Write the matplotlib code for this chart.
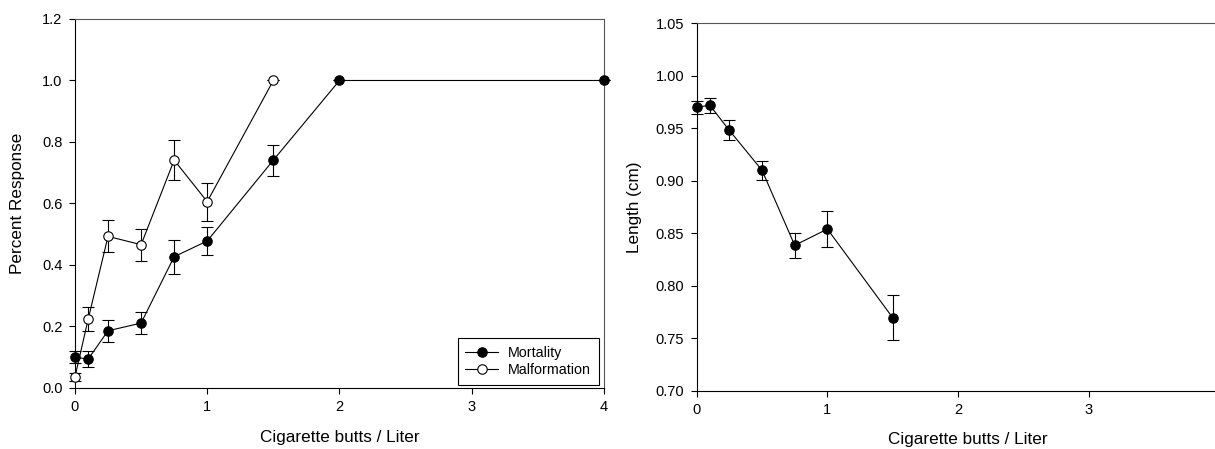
import matplotlib.pyplot as plt

plt.rcParams['font.family'] = ['Liberation Sans', 'DejaVu Sans']

# dose (cigarette butts / liter)
mort_x = [0, 0.1, 0.25, 0.5, 0.75, 1, 1.5, 2, 4]
mort_y = [0.10, 0.094, 0.186, 0.211, 0.427, 0.478, 0.741, 1.0, 1.0]
mort_err = [0.02, 0.026, 0.035, 0.037, 0.055, 0.045, 0.05, 0, 0]

malf_x = [0, 0.1, 0.25, 0.5, 0.75, 1, 1.5]
malf_y = [0.036, 0.224, 0.493, 0.466, 0.741, 0.606, 1.0]
malf_err = [0.012, 0.04, 0.052, 0.052, 0.065, 0.062, 0]

len_x = [0, 0.1, 0.25, 0.5, 0.75, 1, 1.5]
len_y = [0.970, 0.972, 0.948, 0.910, 0.8385, 0.854, 0.7695]
len_err = [0.006, 0.007, 0.0095, 0.009, 0.012, 0.017, 0.0215]

left_ticks_y = [0.0, 0.2, 0.4, 0.6, 0.8, 1.0, 1.2]
right_ticks_y = [0.70, 0.75, 0.80, 0.85, 0.90, 0.95, 1.00, 1.05]

fig = plt.figure(figsize=(12.15, 4.49), dpi=100)
ax1 = fig.add_axes([0.0617, 0.1359, 0.4354, 0.8218])
ax2 = fig.add_axes([0.5734, 0.1298, 0.4303, 0.8183])

line_kw = dict(color='black', lw=0.8, ms=6.8, capsize=4.2, elinewidth=0.8,
               capthick=0.8, mec='black', mew=0.8)

ax1.errorbar(mort_x, mort_y, yerr=mort_err, fmt='-o', mfc='black',
             label='Mortality', zorder=3, **line_kw)
ax1.errorbar(malf_x, malf_y, yerr=malf_err, fmt='-o', mfc='white',
             label='Malformation', zorder=4, **line_kw)
ax1.set_xlim(0, 4)
ax1.set_ylim(0, 1.2)
ax1.set_xticks([0, 1, 2, 3, 4])
ax1.set_yticks(left_ticks_y)
ax1.set_yticklabels([f'{v:.1f}' for v in left_ticks_y])
ax1.set_xlabel('Cigarette butts / Liter', fontsize=12.3)
ax1.xaxis.set_label_coords(0.5, -0.115)
ax1.set_ylabel('Percent Response', fontsize=12.3)
ax1.yaxis.set_label_coords(-0.0945, 0.5)
handles, labels = ax1.get_legend_handles_labels()
handles = [h[0] for h in handles]
leg = ax1.legend(handles, labels, loc='lower right', bbox_to_anchor=(0.991, 0.008),
                 fontsize=10.3, fancybox=False, edgecolor='black', framealpha=1,
                 handlelength=2.3, borderpad=0.55, labelspacing=0.25,
                 handletextpad=0.7, borderaxespad=0)
leg.get_frame().set_linewidth(0.8)

ax2.errorbar(len_x, len_y, yerr=len_err, fmt='-o', mfc='black', zorder=3, **line_kw)
ax2.set_xlim(0, 4)
ax2.set_ylim(0.70, 1.05)
ax2.set_xticks([0, 1, 2, 3])
ax2.set_yticks(right_ticks_y)
ax2.set_yticklabels([f'{v:.2f}' for v in right_ticks_y])
ax2.set_xlabel('Cigarette butts / Liter', fontsize=12.3)
ax2.xaxis.set_label_coords(0.519, -0.113)
ax2.set_ylabel('Length (cm)', fontsize=12.3)
ax2.yaxis.set_label_coords(-0.1046, 0.5)

for ax in (ax1, ax2):
    ax.tick_params(direction='out', length=4, width=0.8, labelsize=10.5, pad=5)
    for s in ax.spines.values():
        s.set_linewidth(0.8)
    ax.spines['top'].set_color('#555555')
    ax.spines['right'].set_color('#555555')

for ax in (ax1, ax2):
    for ln in ax.lines:
        ln.set_clip_on(False)

plt.savefig('out.png', dpi=100)
